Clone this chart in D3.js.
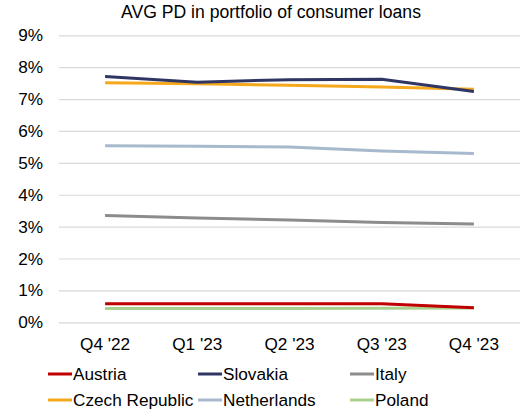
<!DOCTYPE html>
<html><head><meta charset="utf-8">
<script src="https://cdn.jsdelivr.net/npm/d3@7"></script>
<style>body{margin:0;background:#fff;}svg{display:block;font-family:"Liberation Sans",Arial,sans-serif;}</style>
</head><body><div id="chart"></div>
<script>
const title = "AVG PD in portfolio of consumer loans";
const categories = ["Q4 '22","Q1 '23","Q2 '23","Q3 '23","Q4 '23"];
const yTicks = [0,1,2,3,4,5,6,7,8,9];
const seriesNames = ["Austria","Slovakia","Italy","Czech Republic","Netherlands","Poland"];
const seriesColors = ["#C00000","#2F3664","#8C8C8C","#F5A81C","#A7B9CC","#A9D18E"];
const austria = [0.58,0.58,0.58,0.58,0.46];
const slovakia = [7.71,7.53,7.61,7.62,7.24];
const italy = [3.35,3.27,3.21,3.13,3.08];
const czech = [7.51,7.48,7.43,7.38,7.31];
const netherlands = [5.54,5.52,5.50,5.37,5.29];
const poland = [0.43,0.43,0.43,0.44,0.45];
const seriesValues = [austria,slovakia,italy,czech,netherlands,poland];
const drawOrder = [2,4,3,1,5,0];

const W=525,H=414, FS=17.2;
const svg=d3.select("#chart").append("svg").attr("width",W).attr("height",H);
const x=d3.scaleBand().domain(categories).range([59,520]);
const y=d3.scaleLinear().domain([0,9]).range([322.3,35.3]);

svg.append("text").attr("x",271).attr("y",18).attr("text-anchor","middle")
  .attr("font-size",17.6).attr("fill","#000").text(title);

const yAxis=svg.append("g").attr("transform","translate(59,0)")
  .call(d3.axisLeft(y).tickValues(yTicks).tickFormat(d=>d+"%").tickSize(-461).tickPadding(16));
yAxis.select(".domain").remove();
yAxis.selectAll(".tick line").attr("stroke","#D9D9D9").attr("stroke-width",1.2);
yAxis.selectAll(".tick text").attr("font-size",FS).attr("fill","#000").attr("font-family","Liberation Sans, Arial, sans-serif");

const xAxis=svg.append("g").attr("transform","translate(0,322.3)")
  .call(d3.axisBottom(x).tickSize(0).tickPadding(15));
xAxis.select(".domain").remove();
xAxis.selectAll(".tick text").attr("font-size",FS).attr("fill","#000").attr("font-family","Liberation Sans, Arial, sans-serif");

const line=d3.line().x((d,i)=>x(categories[i])+x.bandwidth()/2).y(d=>y(d));
drawOrder.forEach(k=>{
  svg.append("path").datum(seriesValues[k]).attr("d",line).attr("fill","none")
    .attr("stroke",seriesColors[k]).attr("stroke-width",3).attr("stroke-linejoin","round");
});

const colX=[48,198,350], rowY=[374,400];
seriesNames.forEach((n,i)=>{
  const cx=colX[i%3], cy=rowY[Math.floor(i/3)];
  svg.append("line").attr("x1",cx).attr("x2",cx+24).attr("y1",cy).attr("y2",cy)
    .attr("stroke",seriesColors[i]).attr("stroke-width",3);
  svg.append("text").attr("x",cx+25).attr("y",cy+6).attr("font-size",FS).attr("fill","#000").text(n);
});
</script></body></html>
